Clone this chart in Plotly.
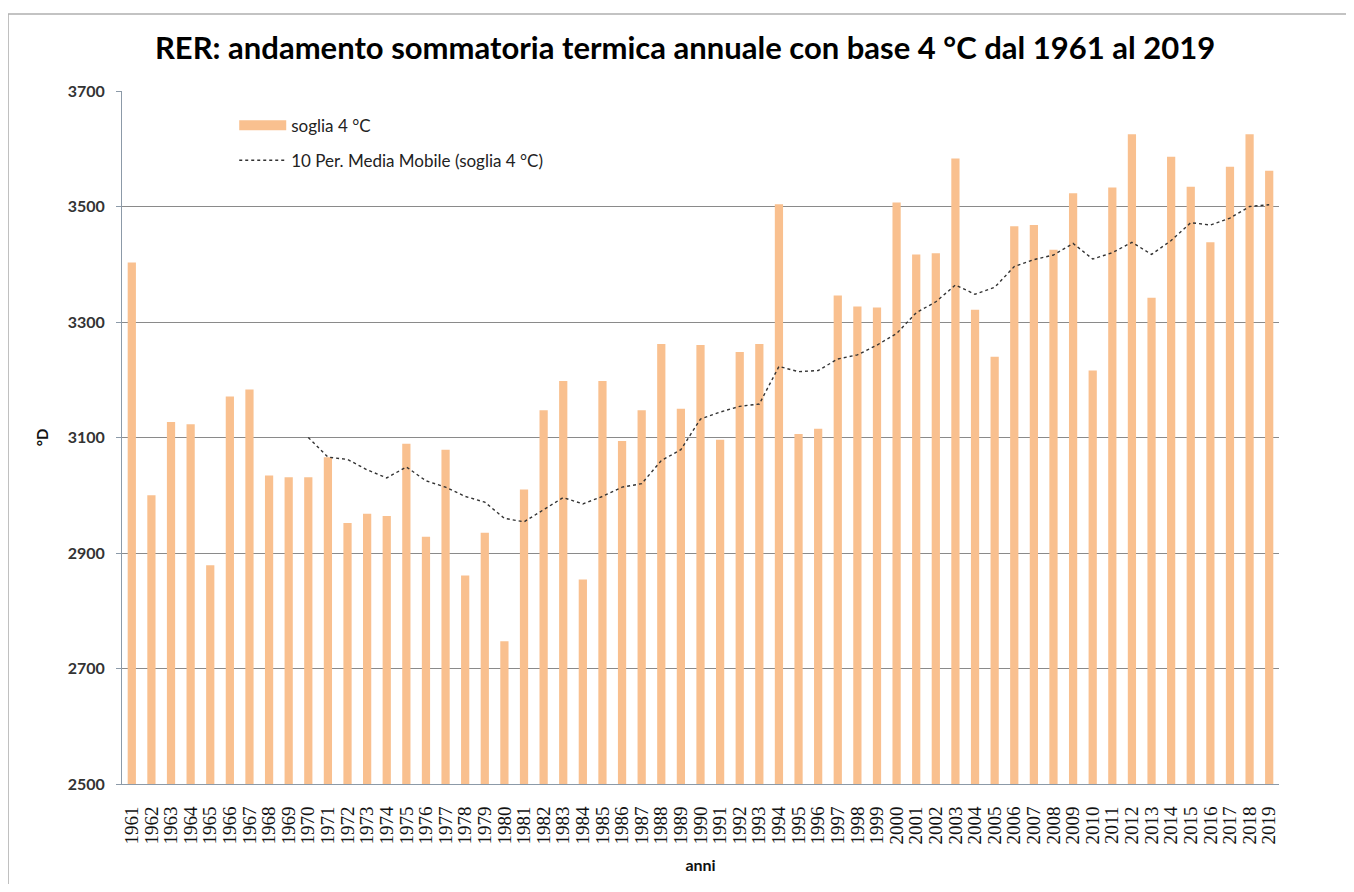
import plotly.graph_objects as go

years = [str(y) for y in range(1961, 2020)]

soglia_4 = [
    3403, 3000, 3127, 3123, 2879, 3171, 3183, 3034, 3031, 3031,
    3066, 2952, 2968, 2964, 3089, 2928, 3079, 2861, 2935, 2747,
    3010, 3147, 3198, 2854, 3198, 3094, 3147, 3262, 3150, 3260,
    3096, 3248, 3262, 3504, 3106, 3115, 3346, 3327, 3325, 3507,
    3417, 3419, 3583, 3321, 3240, 3466, 3468, 3425, 3523, 3216,
    3533, 3625, 3342, 3586, 3534, 3438, 3569, 3625, 3562,
]

ma_years = [str(y) for y in range(1970, 2020)]
media_mobile = [
    3100, 3066, 3062, 3044, 3030, 3049, 3025, 3014, 2998, 2988,
    2960, 2954, 2975, 2996, 2985, 2998, 3014, 3020, 3060, 3079,
    3132, 3144, 3154, 3158, 3223, 3214, 3216, 3236, 3243, 3260,
    3280, 3316, 3335, 3364, 3348, 3360, 3396, 3408, 3416, 3436,
    3409, 3420, 3438, 3417, 3441, 3472, 3468, 3480, 3500, 3503,
]

bar_color = "#F9C08F"
font_main = "Lato"

fig = go.Figure()
fig.add_trace(go.Bar(
    x=years, y=soglia_4, marker=dict(color=bar_color, line=dict(width=0)),
    width=0.42, showlegend=False, name="soglia 4 °C",
))
fig.add_trace(go.Scatter(
    x=ma_years, y=media_mobile, mode="lines",
    line=dict(color="#333333", width=1.4, dash="dot"),
    showlegend=False, name="10 Per. Media Mobile (soglia 4 °C)",
))
# legend entries
fig.add_trace(go.Scatter(
    x=[None], y=[None], mode="lines", line=dict(color=bar_color, width=10),
    name="soglia 4 °C", legendgroup="a",
))
fig.add_trace(go.Scatter(
    x=[None], y=[None], mode="lines", line=dict(color="#333333", width=1.4, dash="dot"),
    name="10 Per. Media Mobile (soglia 4 °C)", legendgroup="b",
))

fig.update_layout(
    width=1338, height=876,
    paper_bgcolor="white", plot_bgcolor="white",
    margin=dict(l=114, r=67, t=83, b=100),
    title=dict(
        text="<b>RER: andamento sommatoria termica annuale con base 4 °C dal 1961 al 2019</b>",
        x=0.506, xanchor="center", y=0.954, yanchor="middle",
        font=dict(family=font_main, size=31, color="#000000"),
    ),
    legend=dict(
        x=0.097, y=0.976, xanchor="left", yanchor="top",
        bgcolor="rgba(0,0,0,0)", traceorder="grouped", tracegroupgap=10,
        itemwidth=47,
        font=dict(family=font_main, size=17, color="#222222"),
    ),
    xaxis=dict(
        type="category", tickangle=-90,
        tickmode="array", tickvals=years, ticktext=years,
        tickfont=dict(family="Liberation Serif", size=19, color="#111111"),
        ticklabelstandoff=14,
        showgrid=False, showline=True, linecolor="#8c9aa8", linewidth=1,
        ticks="",
        title=dict(text="<b>anni</b>", font=dict(family=font_main, size=16, color="#111111"), standoff=16),
    ),
    yaxis=dict(
        range=[2500, 3700], dtick=200, tick0=2500,
        showgrid=True, gridcolor="#8a8a8a", gridwidth=1,
        showline=True, linecolor="#8c9aa8", linewidth=1,
        ticks="outside", ticklen=5, tickcolor="#8c9aa8",
        ticklabelstandoff=8,
        tickfont=dict(family=font_main, size=16, color="#333333", weight="bold"),
        zeroline=False,
        title=dict(text="<b>°D</b>", font=dict(family=font_main, size=15, color="#111111"), standoff=15),
    ),
    shapes=[dict(
        type="rect", xref="paper", yref="paper",
        x0=-0.0985, x1=1.08, y0=-0.2, y1=1.111,
        line=dict(color="#b0b0b0", width=1.5), fillcolor="rgba(0,0,0,0)", layer="below",
    )],
)

fig.write_html("out.html")
